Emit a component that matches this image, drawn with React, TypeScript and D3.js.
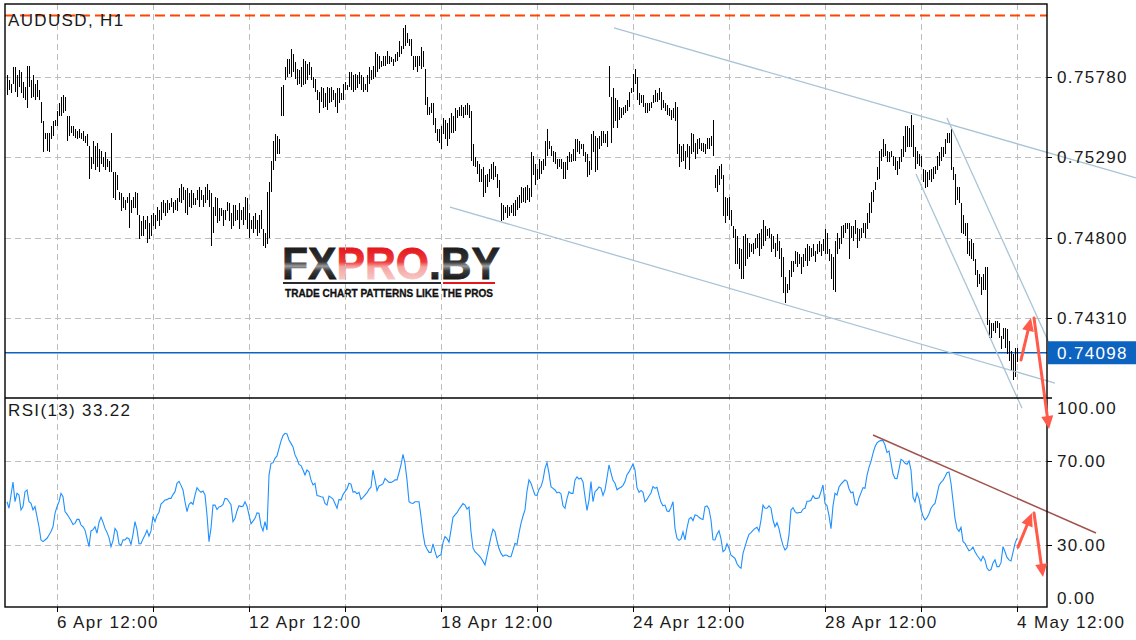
import { useEffect, useRef } from 'react';
import * as d3 from 'd3';

// AUDUSD H1 bars, high / low in pips (1 pip = 0.0001)
const highPips = [
  7579, 7576, 7574, 7584, 7584, 7579, 7582, 7581, 7575, 7572,
  7585, 7585, 7576, 7579, 7574, 7576, 7570, 7563, 7551, 7544,
  7544, 7544, 7548, 7551, 7552, 7557, 7562, 7566, 7567, 7566,
  7554, 7554, 7548, 7548, 7546, 7545, 7546, 7544, 7545, 7542,
  7543, 7536, 7529, 7539, 7536, 7538, 7534, 7533, 7529, 7532,
  7528, 7527, 7544, 7520, 7520, 7518, 7508, 7507, 7505, 7503,
  7505, 7507, 7503, 7505, 7508, 7507, 7494, 7490, 7493, 7491,
  7493, 7489, 7494, 7495, 7494, 7499, 7497, 7502, 7503, 7501,
  7503, 7501, 7504, 7502, 7503, 7504, 7510, 7513, 7511, 7509,
  7510, 7507, 7509, 7507, 7504, 7509, 7511, 7509, 7506, 7511,
  7513, 7509, 7507, 7499, 7505, 7504, 7498, 7498, 7497, 7497,
  7502, 7501, 7495, 7500, 7500, 7497, 7501, 7497, 7499, 7505,
  7504, 7495, 7491, 7493, 7495, 7491, 7494,
  7497, 7485, 7483, 7508, 7514, 7527, 7539, 7543, 7542, 7540,
  7572, 7573, 7584, 7589, 7589, 7595, 7592, 7587, 7583, 7582,
  7584, 7589, 7588, 7586, 7587, 7584, 7578, 7577, 7570, 7569,
  7572, 7571, 7568, 7572, 7571, 7572, 7570, 7568, 7571, 7571,
  7568, 7574, 7575, 7573, 7581, 7581, 7579, 7580, 7579, 7581,
  7579, 7578, 7574, 7579, 7584, 7582, 7585, 7593, 7592, 7591,
  7588, 7591, 7591, 7594, 7591, 7590, 7589, 7592, 7593, 7600,
  7597, 7608, 7610, 7605, 7601, 7601, 7591, 7591, 7591, 7591,
  7596, 7594, 7583, 7566, 7560, 7562, 7562, 7553, 7546, 7546,
  7548, 7553, 7552, 7550, 7553, 7556, 7554, 7559, 7558, 7560,
  7561, 7560, 7561, 7562, 7561, 7557, 7537, 7529, 7527, 7525,
  7522, 7523, 7518, 7519, 7522, 7525, 7526, 7524, 7519, 7515,
  7501, 7500, 7499, 7500, 7499, 7500, 7501, 7503, 7505, 7506,
  7511, 7510, 7511, 7512, 7510, 7532, 7530, 7525, 7522, 7528,
  7527, 7528, 7539, 7546, 7539, 7536, 7533, 7532, 7528, 7528,
  7528, 7526, 7526, 7530, 7532, 7531, 7534, 7540, 7540, 7539,
  7537, 7537, 7532, 7531, 7527, 7543, 7545, 7542, 7541, 7542,
  7545, 7545, 7543, 7545, 7585, 7566, 7571, 7565, 7564, 7560,
  7559, 7560, 7561, 7564, 7569, 7571, 7580, 7583, 7578, 7568,
  7567, 7567, 7562, 7562, 7562, 7563, 7567, 7570, 7568, 7571,
  7569, 7564, 7562, 7561, 7559, 7558, 7559, 7563, 7560, 7537,
  7536, 7537, 7533, 7537, 7536, 7544, 7543, 7538, 7540, 7541,
  7538, 7538, 7537, 7541, 7541, 7542, 7552, 7518, 7522, 7524,
  7525, 7518, 7505, 7504, 7505, 7497, 7487, 7485, 7481, 7474,
  7473, 7481, 7482, 7480, 7477, 7476, 7477, 7480, 7482, 7483,
  7485, 7491, 7487, 7485, 7486, 7482, 7481, 7477, 7482, 7478,
  7474, 7468, 7456, 7452, 7460, 7466, 7466, 7472, 7471, 7470,
  7468, 7470, 7474, 7476, 7475, 7474, 7476, 7472, 7476, 7478,
  7476, 7479, 7485, 7483, 7473, 7470, 7468, 7478, 7483, 7480,
  7487, 7488, 7489, 7489, 7489, 7487, 7487, 7491, 7486, 7485,
  7486, 7489, 7489, 7495, 7501, 7508, 7509, 7514, 7523, 7533,
  7534, 7540, 7537, 7533, 7532, 7533, 7530, 7529, 7527, 7529,
  7534, 7542, 7548, 7548, 7547, 7555, 7549, 7535, 7533, 7531,
  7530, 7522, 7521, 7520, 7521, 7522, 7523, 7524, 7530, 7532,
  7535, 7535, 7540, 7544, 7544, 7546, 7523, 7519, 7511, 7511,
  7501, 7494, 7489, 7489, 7478, 7479, 7477, 7467, 7460, 7458,
  7456, 7458, 7462, 7462, 7430, 7428, 7428, 7429, 7429, 7428,
  7420, 7425, 7425, 7424, 7417, 7411, 7409, 7413, 7413,
];

const lowPips = [
  7567, 7570, 7568, 7574, 7569, 7566, 7572, 7568, 7565, 7564,
  7559, 7572, 7565, 7566, 7564, 7566, 7564, 7550, 7532, 7540,
  7533, 7532, 7540, 7542, 7548, 7548, 7554, 7554, 7556, 7557,
  7539, 7542, 7544, 7542, 7541, 7540, 7541, 7540, 7539, 7538,
  7536, 7516, 7522, 7525, 7521, 7523, 7520, 7525, 7523, 7521,
  7523, 7520, 7520, 7504, 7503, 7509, 7503, 7496, 7498, 7497,
  7501, 7486, 7495, 7498, 7498, 7494, 7479, 7481, 7481, 7485,
  7477, 7479, 7481, 7487, 7485, 7490, 7487, 7491, 7495, 7493,
  7495, 7497, 7499, 7495, 7497, 7496, 7502, 7501, 7503, 7495,
  7494, 7499, 7498, 7500, 7500, 7503, 7499, 7503, 7499, 7501,
  7503, 7499, 7475, 7483, 7493, 7489, 7490, 7493, 7487, 7491,
  7496, 7490, 7485, 7487, 7490, 7491, 7485, 7491, 7488, 7491,
  7485, 7480, 7485, 7483, 7485, 7481, 7483,
  7485, 7475, 7474, 7476, 7480, 7508, 7521, 7527, 7531, 7531,
  7554, 7554, 7576, 7578, 7580, 7578, 7581, 7577, 7573, 7574,
  7572, 7573, 7574, 7576, 7579, 7576, 7571, 7569, 7564, 7556,
  7563, 7559, 7560, 7558, 7562, 7563, 7564, 7560, 7556, 7562,
  7564, 7564, 7570, 7570, 7572, 7570, 7569, 7570, 7571, 7574,
  7570, 7569, 7570, 7569, 7574, 7576, 7577, 7578, 7581, 7583,
  7584, 7585, 7585, 7586, 7586, 7587, 7585, 7587, 7588, 7590,
  7592, 7595, 7597, 7599, 7597, 7591, 7582, 7584, 7581, 7585,
  7583, 7584, 7561, 7555, 7555, 7556, 7549, 7544, 7539, 7538,
  7534, 7543, 7540, 7536, 7540, 7544, 7544, 7545, 7553, 7554,
  7554, 7553, 7555, 7555, 7553, 7527, 7524, 7523, 7519, 7514,
  7514, 7505, 7507, 7511, 7514, 7516, 7515, 7517, 7510, 7505,
  7490, 7491, 7495, 7492, 7493, 7495, 7493, 7493, 7497, 7498,
  7501, 7502, 7501, 7503, 7502, 7505, 7518, 7512, 7515, 7516,
  7519, 7521, 7524, 7530, 7534, 7530, 7526, 7525, 7522, 7523,
  7522, 7516, 7516, 7521, 7526, 7526, 7527, 7527, 7532, 7531,
  7534, 7530, 7526, 7517, 7518, 7521, 7532, 7520, 7521, 7534,
  7536, 7538, 7538, 7535, 7566, 7538, 7547, 7551, 7547, 7552,
  7553, 7555, 7556, 7557, 7560, 7568, 7569, 7574, 7564, 7561,
  7562, 7560, 7556, 7556, 7557, 7559, 7562, 7563, 7563, 7564,
  7558, 7559, 7557, 7555, 7554, 7552, 7553, 7551, 7531, 7523,
  7526, 7527, 7522, 7529, 7521, 7531, 7532, 7528, 7531, 7534,
  7533, 7532, 7531, 7534, 7534, 7536, 7530, 7510, 7508, 7512,
  7516, 7493, 7489, 7493, 7491, 7487, 7480, 7464, 7464, 7461,
  7455, 7455, 7463, 7467, 7468, 7471, 7470, 7473, 7474, 7469,
  7473, 7475, 7478, 7481, 7480, 7471, 7473, 7468, 7472, 7467,
  7456, 7446, 7440, 7446, 7448, 7456, 7459, 7464, 7462, 7464,
  7458, 7462, 7466, 7463, 7466, 7468, 7469, 7465, 7470, 7471,
  7469, 7472, 7470, 7470, 7466, 7455, 7448, 7447, 7470, 7473,
  7476, 7480, 7483, 7485, 7467, 7480, 7478, 7482, 7474, 7478,
  7480, 7483, 7480, 7485, 7489, 7495, 7502, 7509, 7515, 7516,
  7527, 7529, 7530, 7526, 7526, 7529, 7524, 7521, 7518, 7522,
  7526, 7529, 7532, 7535, 7535, 7535, 7529, 7522, 7525, 7524,
  7523, 7514, 7510, 7511, 7515, 7514, 7516, 7519, 7521, 7524,
  7527, 7529, 7531, 7538, 7538, 7521, 7515, 7500, 7503, 7501,
  7483, 7482, 7481, 7470, 7469, 7467, 7466, 7457, 7450, 7452,
  7445, 7448, 7448, 7427, 7419, 7419, 7423, 7422, 7425, 7419,
  7412, 7418, 7413, 7409, 7405, 7399, 7393, 7395, 7404,
];

// RSI(13), one value per bar
const rsiValues = [
  50.6, 47.5, 53.8, 60, 50.6, 54.6, 53.8, 46.7, 48.3, 55.4,
  56.2, 50.6, 49.8, 46.7, 48.3, 43.5, 38.7, 32.4, 31.6, 32.4,
  33.2, 34.8, 36.4, 38.7, 45.1, 48.3, 50.6, 54.6, 53, 45.9,
  44.7, 43.2, 41.7, 39.8, 40.3, 42.2, 42.2, 39.5, 38.7, 37.1,
  33.2, 29.2, 36.7, 37.3, 38.7, 35.6, 40.8, 43.2, 40.9, 37.9,
  36, 33.5, 29.2, 32.1, 37.9, 36.4, 30.6, 29.7, 32.5, 32.4,
  33.5, 32.9, 30.3, 35.1, 41.1, 37.3, 30.6, 30.6, 32.9, 34.8,
  37, 34.2, 36.7, 43.6, 41.1, 44.1, 45.6, 49.5, 50.4, 51.4,
  51.6, 52.2, 52.2, 54, 55.4, 59.4, 60.3, 58.4, 56.2, 50.6,
  45.9, 49.3, 50.3, 49.3, 53.8, 57.3, 56, 55.1, 55.7, 53.8,
  44.3, 31.6, 38, 49, 49, 46.9, 48.1, 48.4, 49.3, 52.2,
  52, 50.6, 49.2, 41.1, 42.7, 46.2, 48.7, 48.3, 48.5, 50.6,
  48.5, 44.3, 40.1, 41.4, 42.7, 45.3, 45.1, 39.2, 36.7, 41.1,
  37.1, 63.3, 68.9, 69.2, 71.3, 72.4, 76, 79.5, 82.1, 83.2,
  82.9, 80, 78.4, 76.7, 72.9, 71, 68.4, 67.8, 65.7, 63.3,
  65.7, 64.9, 61, 58.6, 59.4, 53.5, 53.3, 53, 52.8, 49.8,
  49, 53.3, 52.7, 51.9, 49.8, 47.5, 51.7, 51.4, 54, 55.4,
  56.7, 59.4, 59, 55.2, 55.4, 54.4, 55.1, 51.7, 52.7, 53.8,
  54.9, 56.5, 57.5, 65.7, 61, 55.9, 58.1, 58.6, 59.2, 61.7,
  60.8, 59.8, 59.8, 60.2, 61, 61, 64.4, 68.1, 73.2, 68.9,
  61, 50.6, 50, 49.8, 50.6, 50.6, 50.6, 43.5, 35.5, 30,
  28.1, 26.5, 26.5, 30.5, 26.8, 23.9, 24.9, 25.4, 31.1, 34,
  33, 31.4, 37.1, 43.2, 44.3, 45.4, 47, 48.4, 49.7, 49,
  47.1, 48.1, 36.3, 28.6, 26.8, 25.9, 24.9, 23.8, 22.2, 20.5,
  24.9, 29.5, 34, 37.5, 36.3, 31.9, 28.3, 26, 24.6, 25.2,
  25.1, 24.4, 24.4, 27.6, 30.8, 30.3, 35.7, 40.3, 43.8, 46.7,
  55.7, 61, 59.4, 56.5, 53.8, 53.6, 56.5, 57.8, 61, 66.5,
  69.2, 64.1, 57.8, 57, 56.2, 54.8, 55.2, 54.3, 48.7, 47.5,
  52.2, 55.4, 54.6, 54.6, 61, 62.4, 61.4, 61.9, 60, 53,
  46.5, 51.4, 60.2, 50.6, 55.4, 56.3, 57.6, 57.1, 53.6, 56.2,
  62, 68.1, 64.3, 60.8, 59.4, 56.3, 57, 57.5, 58.4, 60.2,
  63.5, 64.8, 66.7, 68.6, 65.7, 57.3, 55.1, 56, 55.1, 50.6,
  51.7, 53.3, 54.8, 57.9, 57, 57.5, 53.6, 50.3, 48.7, 49,
  46.2, 45.9, 47.9, 50.6, 37.9, 33.2, 32.2, 32.9, 36.2, 32.4,
  38.1, 42.4, 43.2, 41.6, 44.3, 44.1, 43.2, 42.5, 42.1, 48.3,
  48.6, 47.1, 41.9, 32.5, 32.4, 35.1, 36.8, 32.9, 26.8, 27.6,
  30.6, 28.4, 25.1, 24.4, 23.6, 21.1, 19.7, 18.9, 26, 29.2,
  32.4, 35.1, 35.9, 37, 37.9, 38.4, 36.5, 41.9, 49, 47.5,
  47.5, 48.6, 47.5, 41.9, 38.7, 40.6, 37.8, 33.3, 29.8, 27.6,
  28.7, 34.8, 46.7, 47.8, 45.9, 45.2, 45.5, 45.5, 47.1, 47.5,
  50.8, 50.8, 51.3, 53.5, 52.2, 52.2, 52.5, 55.4, 58.6, 49.8,
  48.7, 44, 37.8, 48.6, 54.6, 53.8, 57.6, 59, 60, 61,
  60.3, 56.8, 54.9, 55.2, 49.8, 48.9, 52.4, 54.8, 57.3, 57,
  63.2, 67, 69.8, 73.6, 76.8, 78.6, 79.4, 79.8, 79.7, 77.6,
  74, 74.8, 69.2, 63.8, 61.7, 61.6, 66, 70.8, 70.2, 68.9,
  68.4, 70, 65.7, 52.7, 50.6, 54.8, 52.2, 47, 43.8, 41.9,
  43, 44.9, 47.5, 48.9, 49.8, 54, 58.4, 59.8, 60.8, 62.5,
  64.4, 64.8, 59.4, 51.1, 42.7, 37.8, 36.5, 38.4, 31.7, 30.8,
  28.9, 27.3, 27.8, 29, 26.8, 25.1, 23.8, 22.4, 24.6, 22.9,
  19, 17.8, 18.3, 21.4, 22.9, 19.7, 19.7, 21.6, 29.2, 26.8,
  24.1, 22.9, 22.4, 26.5, 30.8, 33.22,
];

const priceTicks = [0.7578, 0.7529, 0.748, 0.7431];
const rsiTicks = [100, 70, 30, 0];
const timeLabels = ['6 Apr 12:00', '12 Apr 12:00', '18 Apr 12:00', '24 Apr 12:00', '28 Apr 12:00', '4 May 12:00'];
const lastPrice = 0.74098;
const resistanceLevel = 0.76158;
const rsiLast = 33.22;

// drawn objects: [bar index, price] endpoints
const channelLines = [
  [[303.5, 0.7608], [564.5, 0.75164]],
  [[221.5, 0.74987], [524, 0.73913]],
  [[470, 0.7553], [521.5, 0.74145]],
  [[454.5, 0.75188], [507.5, 0.7376]],
];
const rsiTrendLine = [[433, 82.4], [544.5, 35.7]];
const priceArrows = [
  [[507, 0.74054], [512, 0.7431]],
  [[513.5, 0.7431], [521, 0.73633]],
];
const rsiArrows = [
  [[505.5, 29], [512.5, 45.2]],
  [[513.5, 45.2], [518, 14.8]],
];

const FONT = "'Liberation Sans', Arial, sans-serif";
const BLUE = '#0d63c0';

const App = (): JSX.Element => {
  const svgRef = useRef<SVGSVGElement>(null);

  useEffect(() => {
    if (svgRef.current) svgRef.current.innerHTML = '';
    const width = 1136;
    const height = 640;
    const left = 5;
    const top = 4;
    const right = 1047;
    const split = 398;
    const bottom = 607;

    const x = d3.scaleLinear([0, 505], [7, 1017]);
    const yP = d3.scaleLinear([0.73822, 0.762253], [split, top]);
    const yR = d3.scaleLinear([0, 100], [608, split]);

    const svg = d3.select(svgRef.current).attr('width', width).attr('height', height).attr('viewBox', [0, 0, width, height]);

    const defs = svg.append('defs');
    const dark = defs.append('linearGradient').attr('id', 'gDark').attr('gradientUnits', 'userSpaceOnUse')
      .attr('x1', 0).attr('x2', 0).attr('y1', 247).attr('y2', 280);
    [['0%', '#1c1c1c'], ['45%', '#333'], ['58%', '#9c9c9c'], ['72%', '#3a3a3a'], ['100%', '#151515']].forEach(([o, c]) =>
      dark.append('stop').attr('offset', o).attr('stop-color', c));
    const red = defs.append('linearGradient').attr('id', 'gRed').attr('gradientUnits', 'userSpaceOnUse')
      .attr('x1', 0).attr('x2', 0).attr('y1', 247).attr('y2', 280);
    [['0%', '#e3161c'], ['45%', '#ef3a3a'], ['60%', '#f6a3a0'], ['100%', '#f7c9c5']].forEach(([o, c]) =>
      red.append('stop').attr('offset', o).attr('stop-color', c));

    // watermark
    const wm = svg.append('g');
    const logo = wm.append('text').attr('x', 282).attr('y', 279).attr('font-family', FONT).attr('font-weight', 'bold')
      .attr('font-size', 45).attr('textLength', 218).attr('lengthAdjust', 'spacingAndGlyphs')
      .attr('stroke-width', 0.8);
    logo.append('tspan').attr('fill', 'url(#gDark)').attr('stroke', 'url(#gDark)').text('FX');
    logo.append('tspan').attr('fill', 'url(#gRed)').attr('stroke', 'url(#gRed)').text('PRO');
    logo.append('tspan').attr('fill', 'url(#gDark)').attr('stroke', 'url(#gDark)').text('.BY');
    wm.append('rect').attr('x', 283).attr('y', 282).attr('width', 158).attr('height', 2).attr('fill', '#2a2a2a');
    wm.append('rect').attr('x', 443).attr('y', 282).attr('width', 52).attr('height', 2).attr('fill', '#e3161c');
    wm.append('text').attr('x', 285).attr('y', 297).attr('font-family', FONT).attr('font-weight', 'bold')
      .attr('font-size', 10).attr('textLength', 208).attr('lengthAdjust', 'spacingAndGlyphs').attr('fill', '#111')
      .attr('stroke', '#111').attr('stroke-width', 0.3)
      .text('TRADE CHART PATTERNS LIKE THE PROS');

    // grid
    const grid = svg.append('g').attr('stroke', '#bdbdbd').attr('stroke-dasharray', '6,4').attr('stroke-width', 1);
    const gridIdx = d3.range(25, 506, 48);
    gridIdx.forEach((i) => {
      const gx = Math.round(x(i)) + 0.5;
      grid.append('line').attr('x1', gx).attr('x2', gx).attr('y1', top).attr('y2', bottom);
    });
    priceTicks.forEach((p) => {
      const gy = Math.round(yP(p)) + 0.5;
      grid.append('line').attr('x1', left).attr('x2', right).attr('y1', gy).attr('y2', gy);
    });
    [70, 30].forEach((v) => {
      const gy = Math.round(yR(v)) + 0.5;
      grid.append('line').attr('x1', left).attr('x2', right).attr('y1', gy).attr('y2', gy);
    });

    // levels
    const ry = Math.round(yP(resistanceLevel)) + 0.5;
    svg.append('line').attr('x1', left).attr('x2', right).attr('y1', ry).attr('y2', ry)
      .attr('stroke', '#ff4500').attr('stroke-width', 2).attr('stroke-dasharray', '10,5');
    const by = yP(lastPrice);
    svg.append('line').attr('x1', left).attr('x2', right).attr('y1', by).attr('y2', by)
      .attr('stroke', BLUE).attr('stroke-width', 1.6);

    // bars
    svg.append('g').attr('stroke', '#000').attr('stroke-width', 1).attr('shape-rendering', 'crispEdges')
      .selectAll('line').data(highPips).join('line')
      .attr('x1', (_, i) => Math.round(x(i)) + 0.5)
      .attr('x2', (_, i) => Math.round(x(i)) + 0.5)
      .attr('y1', (d) => yP(d / 10000))
      .attr('y2', (d, i) => Math.max(yP(lowPips[i] / 10000), yP(d / 10000) + 1));

    // rsi
    const rsiLine = d3.line<number>().x((_, i) => x(i)).y((d) => yR(d));
    svg.append('path').attr('d', rsiLine(rsiValues)).attr('fill', 'none').attr('stroke', '#1e90ff').attr('stroke-width', 1.1);

    // channel lines
    channelLines.forEach(([a, b]) => {
      svg.append('line').attr('x1', x(a[0])).attr('y1', yP(a[1])).attr('x2', x(b[0])).attr('y2', yP(b[1]))
        .attr('stroke', '#a9c4d6').attr('stroke-width', 1.3);
    });
    svg.append('line').attr('x1', x(rsiTrendLine[0][0])).attr('y1', yR(rsiTrendLine[0][1]))
      .attr('x2', x(rsiTrendLine[1][0])).attr('y2', yR(rsiTrendLine[1][1]))
      .attr('stroke', '#a0524d').attr('stroke-width', 1.5);

    // frame and axes
    const frame = svg.append('g').attr('stroke', '#000').attr('stroke-width', 1.4).attr('fill', 'none');
    frame.append('rect').attr('x', left).attr('y', top).attr('width', right - left).attr('height', bottom - top);
    frame.append('line').attr('x1', left).attr('x2', right + 5).attr('y1', split).attr('y2', split);
    priceTicks.forEach((p) => {
      const ty = Math.round(yP(p)) + 0.5;
      frame.append('line').attr('x1', right).attr('x2', right + 5).attr('y1', ty).attr('y2', ty).attr('stroke-width', 1);
    });
    [70, 30].forEach((v) => {
      const ty = Math.round(yR(v)) + 0.5;
      frame.append('line').attr('x1', right).attr('x2', right + 5).attr('y1', ty).attr('y2', ty).attr('stroke-width', 1);
    });
    gridIdx.forEach((i) => {
      const tx = Math.round(x(i)) + 0.5;
      frame.append('line').attr('x1', tx).attr('x2', tx).attr('y1', bottom).attr('y2', bottom + 5).attr('stroke-width', 1);
    });

    const label = (g: d3.Selection<SVGGElement, unknown, null, undefined>) =>
      g.attr('font-family', FONT).attr('font-size', 17).attr('letter-spacing', 1.35).attr('fill', '#1a1a1a');

    const axisText = svg.append('g').call(label);
    priceTicks.forEach((p) => {
      axisText.append('text').attr('x', 1057).attr('y', yP(p)).attr('dy', '0.36em').text(p.toFixed(5));
    });
    rsiTicks.forEach((v) => {
      const ty = Math.min(Math.max(yR(v), split + 10), bottom - 9);
      axisText.append('text').attr('x', 1057).attr('y', ty).attr('dy', '0.36em').text(v.toFixed(2));
    });
    timeLabels.forEach((t, j) => {
      axisText.append('text').attr('x', Math.round(x(25 + 96 * j))).attr('y', 628).text(t);
    });
    axisText.append('text').attr('x', 8).attr('y', 26).text('AUDUSD, H1');
    axisText.append('text').attr('x', 8).attr('y', 416).text(`RSI(13) ${rsiLast.toFixed(2)}`);

    // last price tag
    svg.append('rect').attr('x', right + 1).attr('y', by - 11.5).attr('width', width - right - 1).attr('height', 23).attr('fill', BLUE);
    svg.append('text').attr('x', 1057).attr('y', by).attr('dy', '0.36em').attr('font-family', FONT).attr('font-size', 17)
      .attr('letter-spacing', 1.35).attr('fill', '#fff').text(lastPrice.toFixed(5));

    // arrows
    const arrow = (x1: number, y1: number, x2: number, y2: number) => {
      const dx = x2 - x1;
      const dy = y2 - y1;
      const len = Math.hypot(dx, dy);
      const ux = dx / len;
      const uy = dy / len;
      const hl = 13;
      const hw = 6;
      const bx = x2 - ux * hl;
      const by2 = y2 - uy * hl;
      svg.append('line').attr('x1', x1).attr('y1', y1).attr('x2', bx + ux * 2).attr('y2', by2 + uy * 2)
        .attr('stroke', '#ff5a4a').attr('stroke-width', 3).attr('stroke-linecap', 'round');
      svg.append('path')
        .attr('d', `M${x2},${y2}L${bx - uy * hw},${by2 + ux * hw}L${bx + uy * hw},${by2 - ux * hw}Z`)
        .attr('fill', '#ff5a4a');
    };
    priceArrows.forEach(([a, b]) => arrow(x(a[0]), yP(a[1]), x(b[0]), yP(b[1])));
    rsiArrows.forEach(([a, b]) => arrow(x(a[0]), yR(a[1]), x(b[0]), yR(b[1])));
  }, []);

  return <svg ref={svgRef} style={{ position: 'absolute', left: 0, top: 0, background: '#fff' }} />;
};

export default App;
